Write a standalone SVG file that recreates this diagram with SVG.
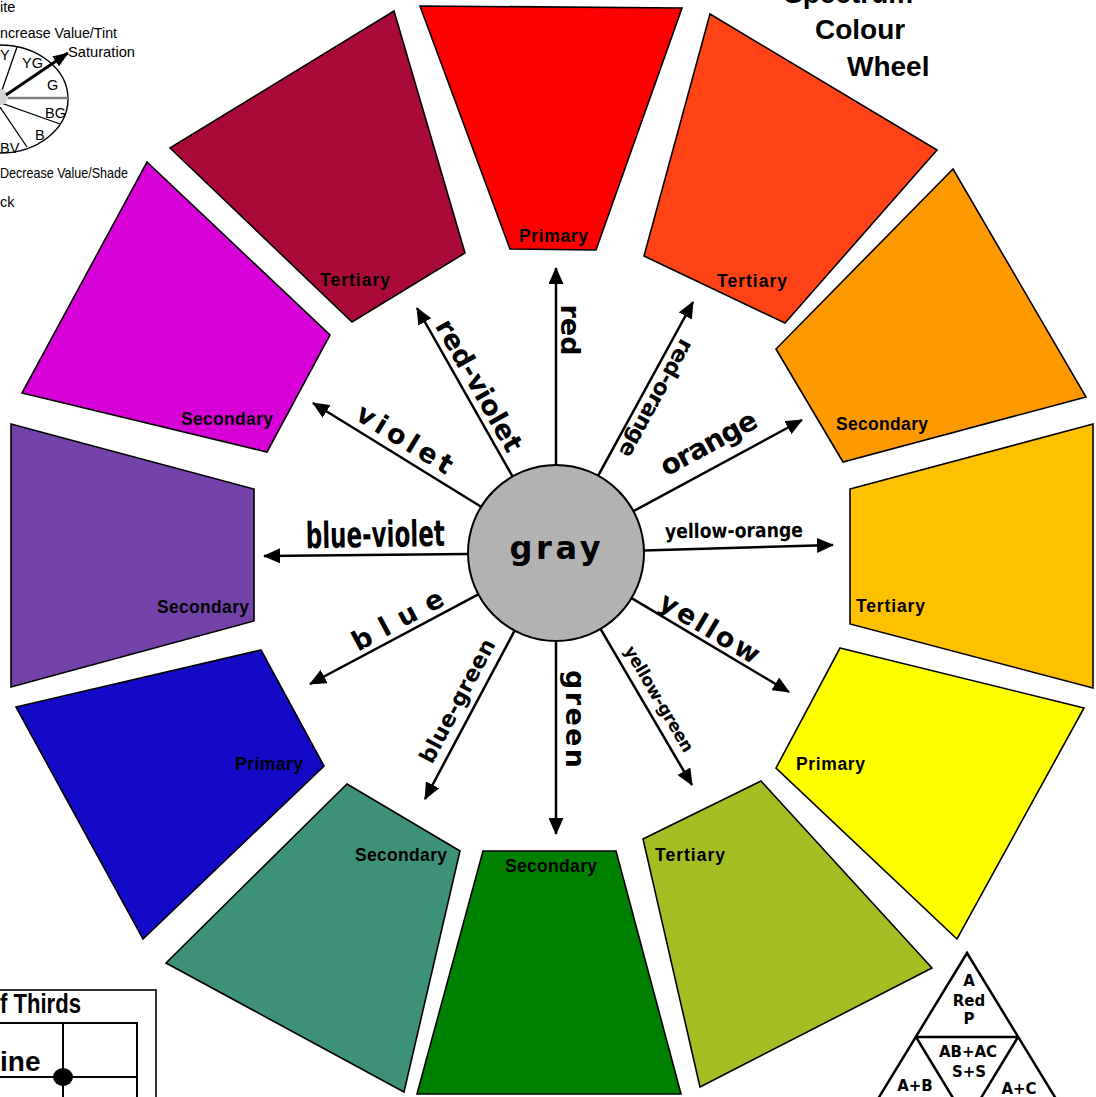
<svg xmlns="http://www.w3.org/2000/svg" width="1096" height="1097" viewBox="0 0 1096 1097">
<defs>
<marker id="ah" markerUnits="userSpaceOnUse" markerWidth="17" markerHeight="15" viewBox="0 0 17 15" refX="16" refY="7.5" orient="auto"><path d="M0,0 L17,7.5 L0,15 z" fill="#000"/></marker>
<marker id="ah2" markerUnits="userSpaceOnUse" markerWidth="16" markerHeight="12" viewBox="0 0 16 12" refX="15" refY="6" orient="auto"><path d="M0,0 L16,6 L0,12 z" fill="#000"/></marker>
<style>
.seg{stroke:#000;stroke-width:1.6;stroke-linejoin:miter}
.lbl{font-family:"Liberation Sans",Arial,sans-serif;font-weight:bold;font-size:17.5px;fill:#000}
.conn line{stroke:#000;stroke-width:2.5;marker-end:url(#ah)}
.al{font-family:"DejaVu Sans",Verdana,sans-serif;font-weight:bold;fill:#000;text-anchor:middle}
.cond{font-family:"DejaVu Sans Condensed","DejaVu Sans",sans-serif;font-stretch:condensed;font-weight:bold;fill:#000;text-anchor:middle}
.leg{font-family:"Liberation Sans",Arial,sans-serif;font-size:14.5px;fill:#000}
.title{font-family:"Liberation Sans",Arial,sans-serif;font-weight:bold;font-size:28px;fill:#000}
.tri{font-family:"DejaVu Sans",Verdana,sans-serif;font-weight:bold;font-size:15px;fill:#000;text-anchor:middle}
.thin{stroke:#000;stroke-width:1.3;fill:none}
</style>
</defs>
<rect width="1096" height="1097" fill="#fff"/>

<!-- legend top-left -->
<g id="legend">
<ellipse cx="0" cy="99" rx="68" ry="54" fill="#fff" stroke="#000" stroke-width="1.4"/>
<line class="thin" x1="0" y1="96" x2="17" y2="47"/>
<line class="thin" x1="0" y1="102.5" x2="60" y2="124"/>
<line class="thin" x1="0" y1="107" x2="27" y2="147"/>
<line x1="8" y1="98" x2="68" y2="98" stroke="#808080" stroke-width="2.5"/>
<circle cx="0" cy="97" r="8" fill="#d4d4d4"/>
<line x1="6" y1="95" x2="68" y2="53" stroke="#000" stroke-width="3" marker-end="url(#ah2)"/>
<text class="leg" x="0" y="12">ite</text>
<text class="leg" x="0" y="38" textLength="117" lengthAdjust="spacingAndGlyphs">ncrease Value/Tint</text>
<text class="leg" x="68" y="57" textLength="67" lengthAdjust="spacingAndGlyphs">Saturation</text>
<text class="leg" x="0" y="60">Y</text>
<text class="leg" x="22" y="68">YG</text>
<text class="leg" x="47" y="90">G</text>
<text class="leg" x="45" y="118">BG</text>
<text class="leg" x="35" y="140">B</text>
<text class="leg" x="0" y="153">BV</text>
<text class="leg" x="0" y="178" textLength="128" lengthAdjust="spacingAndGlyphs">Decrease Value/Shade</text>
<text class="leg" x="0" y="207">ck</text>
</g>

<!-- title -->
<g id="title">
<text class="title" x="784" y="3">Spectrum</text>
<text class="title" x="815" y="39">Colour</text>
<text class="title" x="847" y="76">Wheel</text>
</g>

<!-- wheel segments -->
<g id="seg-red"><polygon class="seg" fill="#FF0000" points="420,6 682,8 596,250 510,249"/><text class="lbl" x="519" y="242" textLength="69">Primary</text></g>
<g id="seg-red-orange"><polygon class="seg" fill="#FF4317" points="710,14 937,150 785,323 644,256"/><text class="lbl" x="717" y="287" textLength="70">Tertiary</text></g>
<g id="seg-orange"><polygon class="seg" fill="#FF9900" points="953,169 1086,397 843,462 776,349"/><text class="lbl" x="836" y="430" textLength="92">Secondary</text></g>
<g id="seg-yellow-orange"><polygon class="seg" fill="#FFC000" points="850,489 1093,424 1093,688 850,624"/><text class="lbl" x="856" y="612" textLength="69">Tertiary</text></g>
<g id="seg-yellow"><polygon class="seg" fill="#FFFF00" points="840,648 1084,708 957,939 776,768"/><text class="lbl" x="796" y="770" textLength="69">Primary</text></g>
<g id="seg-yellow-green"><polygon class="seg" fill="#A4BD22" points="761,781 932,968 700,1087 643,839"/><text class="lbl" x="655" y="861" textLength="70">Tertiary</text></g>
<g id="seg-green"><polygon class="seg" fill="#008000" points="483,851 616,851 681,1094 417,1094"/><text class="lbl" x="505" y="872" textLength="92">Secondary</text></g>
<g id="seg-blue-green"><polygon class="seg" fill="#3D9178" points="347,784 460,851 404,1092 166,963"/><text class="lbl" x="355" y="861" textLength="92">Secondary</text></g>
<g id="seg-blue"><polygon class="seg" fill="#130AC8" points="16,707 261,650 324,766 143,939"/><text class="lbl" x="235" y="770" textLength="68">Primary</text></g>
<g id="seg-blue-violet"><polygon class="seg" fill="#7443AA" points="11,424 254,489 254,621 11,687"/><text class="lbl" x="157" y="613" textLength="92">Secondary</text></g>
<g id="seg-violet"><polygon class="seg" fill="#D700D7" points="147,162 330,335 267,452 22,393"/><text class="lbl" x="181" y="425" textLength="92">Secondary</text></g>
<g id="seg-red-violet"><polygon class="seg" fill="#A90A38" points="170,148 394,11 465,253 352,322"/><text class="lbl" x="320" y="286" textLength="70">Tertiary</text></g>

<!-- connectors -->
<g id="connectors" class="conn">
<line x1="556" y1="465" x2="556" y2="268"/>
<line x1="598.2" y1="475.7" x2="693" y2="302"/>
<line x1="633.4" y1="511.2" x2="802" y2="420"/>
<line x1="644" y1="550.5" x2="833" y2="545"/>
<line x1="631.6" y1="598.1" x2="789" y2="692"/>
<line x1="600.5" y1="628.9" x2="692" y2="785"/>
<line x1="556" y1="641" x2="556" y2="834"/>
<line x1="514.6" y1="630.7" x2="425" y2="799"/>
<line x1="478.3" y1="594.4" x2="310" y2="684"/>
<line x1="468" y1="553.9" x2="264" y2="556"/>
<line x1="481.1" y1="506.8" x2="313" y2="403"/>
<line x1="512.6" y1="476.5" x2="417" y2="308"/>
</g>

<!-- connector labels -->
<g id="connector-labels">
<text class="al" font-size="27" transform="translate(561,330) rotate(90)" textLength="51">red</text>
<text class="al" font-size="22" transform="translate(650,395) rotate(118.6)" textLength="131">red-orange</text>
<text class="al" font-size="28" transform="translate(713,451.5) rotate(-28.4)" textLength="106">orange</text>
<text class="cond" font-size="20" transform="translate(734,537.5) rotate(-0.6)" textLength="138" lengthAdjust="spacingAndGlyphs">yellow-orange</text>
<text class="al" font-size="27" transform="translate(705,636) rotate(30.8)" textLength="112">yellow</text>
<text class="al" font-size="17" transform="translate(654,702) rotate(59.6)" textLength="120">yellow-green</text>
<text class="al" font-size="27" transform="translate(566,719) rotate(90)" textLength="98">green</text>
<text class="al" font-size="22" transform="translate(464,704.5) rotate(-62.2)" textLength="137">blue-green</text>
<text class="al" font-size="27" transform="translate(402,628) rotate(-28.2)" textLength="100">blue</text>
<text class="cond" font-size="36" transform="translate(375.5,547) rotate(-1)" textLength="139" lengthAdjust="spacingAndGlyphs">blue-violet</text>
<text class="al" font-size="27" transform="translate(400,447) rotate(31.4)" textLength="108">violet</text>
<text class="al" font-size="27" transform="translate(471,390) rotate(60.4)" textLength="148">red-violet</text>
</g>

<!-- centre -->
<g id="gray">
<circle cx="556" cy="553" r="88" fill="#B2B2B2" stroke="#000" stroke-width="2"/>
<text class="al" font-size="32" x="555" y="559" textLength="91">gray</text>
</g>

<!-- rule of thirds (cropped) -->
<g id="rule-of-thirds">
<rect x="-10" y="990" width="166" height="130" fill="#fff" stroke="#000" stroke-width="1.6"/>
<polyline points="-10,1023 137,1023 137,1110" fill="none" stroke="#000" stroke-width="2"/>
<line x1="63" y1="1023" x2="63" y2="1110" stroke="#000" stroke-width="2"/>
<line x1="-10" y1="1077" x2="137" y2="1077" stroke="#000" stroke-width="2"/>
<ellipse cx="63" cy="1077" rx="10" ry="9" fill="#000"/>
<text class="title" font-size="21" x="0" y="1013" textLength="81" lengthAdjust="spacingAndGlyphs">f Thirds</text>
<text class="title" font-size="18" x="0" y="1071">ine</text>
</g>

<!-- triangle bottom-right -->
<g id="triangle">
<polygon points="967,953 859,1130 1075,1130" fill="#fff" stroke="#000" stroke-width="2.5" stroke-linejoin="miter"/>
<polyline points="916,1037 1018,1037" fill="none" stroke="#000" stroke-width="2.5"/>
<polyline points="916,1037 967,1121 1018,1037" fill="none" stroke="#000" stroke-width="2.5"/>
<text class="tri" x="969" y="986">A</text>
<text class="tri" x="969" y="1006">Red</text>
<text class="tri" x="969" y="1024">P</text>
<text class="tri" x="968" y="1057">AB+AC</text>
<text class="tri" x="969" y="1077">S+S</text>
<text class="tri" x="915" y="1091">A+B</text>
<text class="tri" x="1019" y="1094">A+C</text>
</g>
</svg>
